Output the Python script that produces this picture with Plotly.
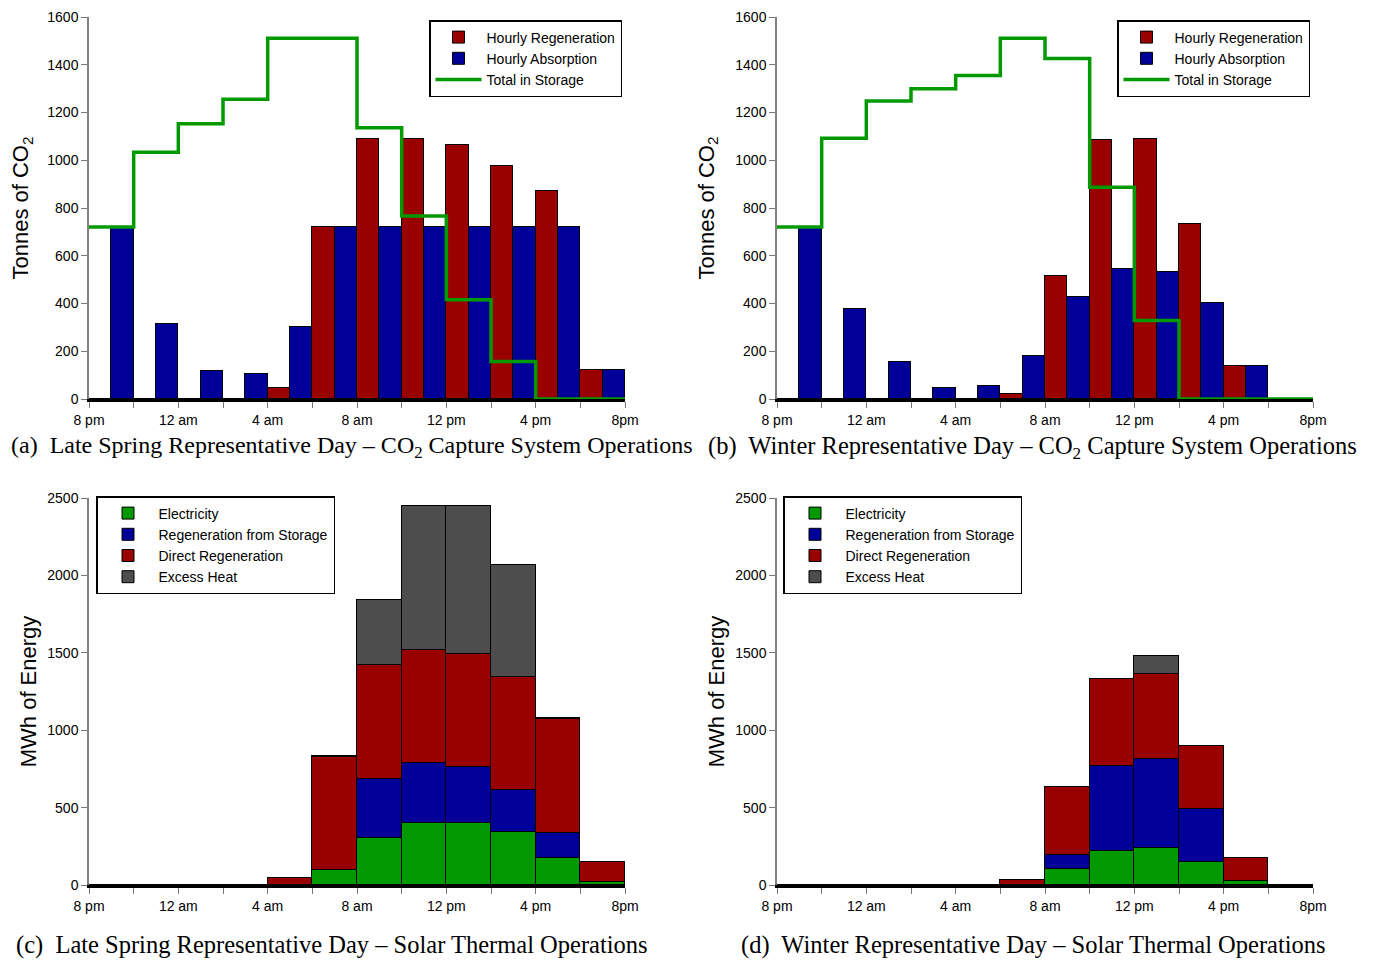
import plotly.graph_objects as go
import numpy as np

# ---------------- data ----------------
slot_start = [0, 2, 4, 6, 8, 10, 12, 14, 16, 18, 20, 22]   # hours after 8 pm
label_hours = [0, 4, 8, 12, 16, 20, 24]
minor_hours = [2, 6, 10, 14, 18, 22]
tick_labels = ["8 pm", "12 am", "4 am", "8 am", "12 pm", "4 pm", "8pm"]

spring_regen = [0, 0, 0, 0, 47, 720, 1090, 1090, 1065, 978, 871, 120]
spring_absorb = [720, 315, 118, 103, 300, 720, 720, 720, 720, 720, 720, 120]
spring_storage = [720, 1033, 1153, 1256, 1511, 1511, 1136, 766, 416, 157, 0, 0]

winter_regen = [0, 0, 0, 0, 0, 22, 515, 1083, 1090, 734, 139, 0]
winter_absorb = [720, 375, 154, 48, 55, 180, 428, 544, 533, 404, 139, 0]
winter_storage = [720, 1092, 1248, 1299, 1355, 1511, 1426, 887, 329, 0, 0, 0]

spring_elec = [0, 0, 0, 0, 0, 97, 301, 403, 403, 340, 176, 21]
spring_stor = [0, 0, 0, 0, 0, 0, 384, 383, 357, 272, 160, 0]
spring_direct = [0, 0, 0, 0, 47, 732, 734, 734, 734, 730, 736, 128]
spring_excess = [0, 0, 0, 0, 0, 5, 422, 930, 956, 723, 6, 0]

winter_elec = [0, 0, 0, 0, 0, 0, 103, 220, 241, 147, 26, 0]
winter_stor = [0, 0, 0, 0, 0, 0, 89, 551, 571, 342, 0, 0]
winter_direct = [0, 0, 0, 0, 0, 32, 443, 558, 549, 411, 148, 0]
winter_excess = [0, 0, 0, 0, 0, 0, 0, 0, 120, 0, 0, 0]

captions = [
    "(a)  Late Spring Representative Day \u2013 CO<sub>2</sub> Capture System Operations",
    "(b)  Winter Representative Day \u2013 CO<sub>2</sub> Capture System Operations",
    "(c)  Late Spring Representative Day \u2013 Solar Thermal Operations",
    "(d)  Winter Representative Day \u2013 Solar Thermal Operations",
]

# ---------------- style ----------------
RED = "#990000"
BLUE = "#000099"
GREEN = "#009900"
GREY = "#4d4d4d"
SANS = "Liberation Sans, Arial, sans-serif"
SERIF = "Liberation Serif, Times New Roman, serif"
W, H = 1373, 962
OFF = 8  # page body margin

starts = np.array(slot_start, dtype=float)
red_x = starts + 0.5
blue_x = starts + 1.5
stack_x = starts + 1.0
step_x = list(slot_start) + [24]

fig = go.Figure()

def co2_panel(regen, absorb, storage, xa, ya, leg):
    fig.add_trace(go.Bar(x=red_x, y=regen, width=1.0, name="Hourly Regeneration",
                         marker=dict(color=RED, line=dict(color="black", width=1)),
                         xaxis=xa, yaxis=ya, legend=leg))
    fig.add_trace(go.Bar(x=blue_x, y=absorb, width=1.0, name="Hourly Absorption",
                         marker=dict(color=BLUE, line=dict(color="black", width=1)),
                         xaxis=xa, yaxis=ya, legend=leg))
    fig.add_trace(go.Scatter(x=step_x, y=list(storage) + [storage[-1]], mode="lines",
                             line=dict(color=GREEN, width=3.5, shape="hv"),
                             name="Total in Storage", xaxis=xa, yaxis=ya, legend=leg))

def energy_panel(elec, stor, direct, excess, xa, ya, leg):
    for vals, name, col in [(elec, "Electricity", GREEN),
                            (stor, "Regeneration from Storage", BLUE),
                            (direct, "Direct Regeneration", RED),
                            (excess, "Excess Heat", GREY)]:
        fig.add_trace(go.Bar(x=stack_x, y=vals, width=2.0, name=name,
                             marker=dict(color=col, line=dict(color="black", width=1)),
                             xaxis=xa, yaxis=ya, legend=leg))

co2_panel(spring_regen, spring_absorb, spring_storage, "x", "y", "legend")
co2_panel(winter_regen, winter_absorb, winter_storage, "x2", "y2", "legend2")
energy_panel(spring_elec, spring_stor, spring_direct, spring_excess, "x3", "y3", "legend3")
energy_panel(winter_elec, winter_stor, winter_direct, winter_excess, "x4", "y4", "legend4")

def px_x(p):
    return (p - OFF) / W

def px_y(p):
    return 1 - (p - OFF) / H

xdom_l = [px_x(89), px_x(625)]
xdom_r = [px_x(777), px_x(1313)]
ydom_t = [px_y(399), px_y(17)]
ydom_b = [px_y(885), px_y(498)]

def xaxis_cfg(dom, anchor):
    return dict(domain=dom, anchor=anchor, range=[0, 24], tickmode="array",
                tickvals=label_hours, ticktext=tick_labels, ticks="outside",
                ticklen=6, tickwidth=1, tickcolor="#777777",
                minor=dict(tickmode="array", tickvals=minor_hours, ticks="outside",
                           ticklen=6, tickwidth=1, tickcolor="#777777", showgrid=False),
                showline=True, linecolor="black", linewidth=3, layer="below traces",
                showgrid=False, zeroline=False, automargin=False,
                ticklabeloverflow="allow",
                tickfont=dict(family=SANS, size=14, color="black"))

def yaxis_cfg(dom, anchor, rng, dtick, title, standoff):
    return dict(domain=dom, anchor=anchor, range=rng, dtick=dtick, ticks="outside",
                ticklen=6, tickwidth=1, tickcolor="#777777",
                showline=True, linecolor="#808080", linewidth=1.5,
                showgrid=False, zeroline=False, automargin=False,
                ticklabeloverflow="allow",
                tickfont=dict(family=SANS, size=14, color="black"),
                title=dict(text=title, standoff=standoff,
                           font=dict(family=SANS, size=22, color="black")))

def legend_cfg(x, y, xanchor, iw):
    return dict(x=x, y=y, xanchor=xanchor, yanchor="top", xref="paper", yref="paper",
                bgcolor="white", bordercolor="black", borderwidth=1.5,
                font=dict(family=SANS, size=14, color="black"),
                traceorder="normal", tracegroupgap=0, itemwidth=iw)

fig.update_layout(
    width=W, height=H,
    margin=dict(l=0, r=0, t=0, b=0, autoexpand=False),
    paper_bgcolor="white", plot_bgcolor="white",
    barmode="stack", bargap=0,
    showlegend=True,
    xaxis=xaxis_cfg(xdom_l, "y"),
    xaxis2=xaxis_cfg(xdom_r, "y2"),
    xaxis3=xaxis_cfg(xdom_l, "y3"),
    xaxis4=xaxis_cfg(xdom_r, "y4"),
    yaxis=yaxis_cfg(ydom_t, "x", [0, 1600], 200, "Tonnes of CO<sub>2</sub>", 15),
    yaxis2=yaxis_cfg(ydom_t, "x2", [0, 1600], 200, "Tonnes of CO<sub>2</sub>", 15),
    yaxis3=yaxis_cfg(ydom_b, "x3", [0, 2500], 500, "MWh of Energy", 5),
    yaxis4=yaxis_cfg(ydom_b, "x4", [0, 2500], 500, "MWh of Energy", 5),
    legend=legend_cfg(px_x(622), px_y(20), "right", 46),
    legend2=legend_cfg(px_x(1310), px_y(20), "right", 46),
    legend3=legend_cfg(px_x(96), px_y(496), "left", 51),
    legend4=legend_cfg(px_x(783), px_y(496), "left", 51),
)

cap_pos = [(352, 447, 24), (1032, 447, 24.5), (332, 945, 24.5), (1033, 945, 24.5)]
for text, (cx, cy, fs) in zip(captions, cap_pos):
    fig.add_annotation(text=text, x=px_x(cx), y=px_y(cy), xref="paper", yref="paper",
                       xanchor="center", yanchor="middle", showarrow=False,
                       font=dict(family=SERIF, size=fs, color="black"))

fig.write_html("out.html")
